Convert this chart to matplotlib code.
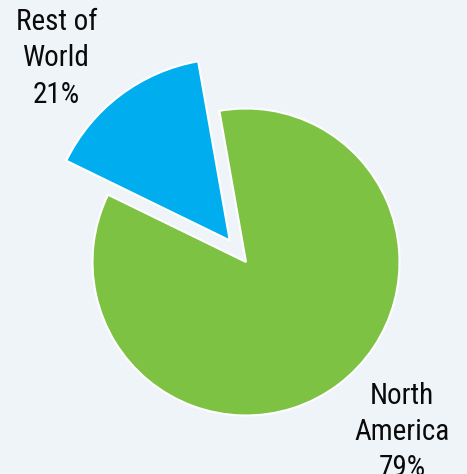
import matplotlib
matplotlib.use("Agg")
import matplotlib.pyplot as plt

# Data (angular shares as drawn; printed labels as shown)
categories = ["Rest of World", "North America"]
drawn_shares = [15, 85]
label_texts = ["Rest of\nWorld\n21%", "North\nAmerica\n79%"]
colors = ["#00AEEF", "#7DC243"]
bg = "#EFF4F9"

fig = plt.figure(figsize=(4.67, 4.74), dpi=100, facecolor=bg)
ax = fig.add_axes([0, 0, 1, 1])
ax.set_facecolor(bg)

wedges, _ = ax.pie(drawn_shares, colors=colors, startangle=100, counterclock=True,
                   explode=[0.176, 0], radius=1.0,
                   wedgeprops=dict(edgecolor="white", linewidth=1.5))
# the detached slice is drawn larger in the reference
wedges[0].set_radius(1.185)

ax.set_xlim(-246 / 153.5, (467 - 246) / 153.5)
ax.set_ylim((262 - 474) / 153.5, 262 / 153.5)
ax.set_aspect("equal", adjustable="box")
ax.axis("off")

fam = ["Roboto Condensed", "IBM Plex Sans Condensed", "Barlow Semi Condensed", "DejaVu Sans"]
ax.text(-1.235, 1.655, label_texts[0], ha="center", va="top", multialignment="center",
        fontsize=21, family=fam, linespacing=1.38, color="#0a0a0a")
ax.text(1.016, -0.78, label_texts[1], ha="center", va="top", multialignment="center",
        fontsize=21, family=fam, linespacing=1.38, color="#0a0a0a")

fig.savefig("out.png", dpi=100, facecolor=bg)
